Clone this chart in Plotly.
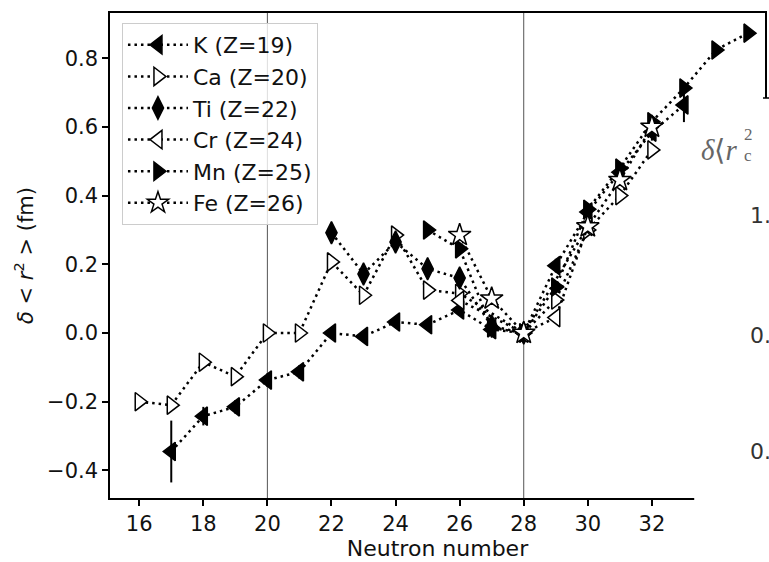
import plotly.graph_objects as go

# Isotope shifts of the mean-square charge radius, relative to N = 28
k_n = [17, 18, 19, 20, 21, 22, 23, 24, 25, 26, 27, 28, 29, 30, 31, 32, 33]
k_dr2 = [-0.345, -0.242, -0.215, -0.137, -0.113, 0.0, -0.01, 0.032, 0.024,
         0.067, 0.01, 0.0, 0.196, 0.352, 0.468, 0.585, 0.664]
k_err = [0.09, 0.027, 0.02, 0.02, 0.02, 0.015, 0.015, 0.015, 0.015,
         0.015, 0.015, 0.0, 0.02, 0.02, 0.02, 0.025, 0.05]

ca_n = [16, 17, 18, 19, 20, 21, 22, 23, 24, 25, 26, 28, 29, 30, 31, 32]
ca_dr2 = [-0.20, -0.21, -0.085, -0.127, 0.0, 0.0, 0.207, 0.11, 0.285, 0.125,
          0.115, 0.0, 0.096, 0.30, 0.40, 0.533]
ca_err = [0.01] * len(ca_n)

ti_n = [22, 23, 24, 25, 26, 27, 28]
ti_dr2 = [0.292, 0.172, 0.265, 0.187, 0.16, 0.02, 0.0]
ti_err = [0.02] * len(ti_n)

cr_n = [26, 28, 29, 30]
cr_dr2 = [0.095, 0.0, 0.045, 0.31]
cr_err = [0.01] * len(cr_n)

mn_n = [25, 26, 27, 28, 29, 30, 31, 32, 33, 34, 35]
mn_dr2 = [0.30, 0.245, 0.015, 0.0, 0.134, 0.36, 0.48, 0.615, 0.713, 0.824, 0.873]
mn_err = [0.015] * len(mn_n)

fe_n = [26, 27, 28, 30, 31, 32]
fe_dr2 = [0.285, 0.10, 0.0, 0.31, 0.445, 0.60]
fe_err = [0.01] * len(fe_n)

magic_n = [20, 28]

series = [
    ("K (Z=19)", k_n, k_dr2, k_err, "triangle-left", "black", 16),
    ("Ca (Z=20)", ca_n, ca_dr2, ca_err, "triangle-right", "white", 16),
    ("Ti (Z=22)", ti_n, ti_dr2, ti_err, "diamond-tall", "black", 16),
    ("Cr (Z=24)", cr_n, cr_dr2, cr_err, "triangle-left", "white", 16),
    ("Mn (Z=25)", mn_n, mn_dr2, mn_err, "triangle-right", "black", 16),
    ("Fe (Z=26)", fe_n, fe_dr2, fe_err, "star", "white", 17),
]

FONT = "DejaVu Sans"
W, H = 769, 562
L, R, T, B = 110, 2, 13, 64
PW, PH = W - L - R, H - T - B


def px_x(p):
    """pixel column -> paper x"""
    return (p - L) / PW


def px_y(p):
    """pixel row -> paper y"""
    return (H - B - p) / PH


fig = go.Figure()
for i, (name, xs, ys, es, sym, fill, size) in enumerate(series):
    fig.add_trace(go.Scatter(
        x=xs, y=ys, name=name, mode="lines+markers", legendgroup=f"g{i}",
        line=dict(color="black", width=2.5, dash="2.5px,4px"),
        marker=dict(symbol=sym, size=size, color=fill,
                    line=dict(color="black", width=1.5)),
        error_y=dict(type="data", array=es, visible=True,
                     color="black", thickness=2, width=0),
    ))

for n in magic_n:
    fig.add_shape(type="line", xref="x", yref="paper", x0=n, x1=n, y0=0, y1=1,
                  line=dict(color="#555555", width=1), layer="below")

# neighbouring panel overlapping the lower right corner
fig.add_shape(type="rect", xref="paper", yref="paper",
              x0=px_x(696), x1=px_x(W + 20),
              y0=px_y(H + 20), y1=px_y(98),
              fillcolor="white", line=dict(width=0), layer="above")
fig.add_shape(type="line", xref="paper", yref="paper",
              x0=px_x(765), x1=px_x(W + 20), y0=px_y(98), y1=px_y(98),
              line=dict(color="black", width=1.5), layer="above")

side_texts = [
    ("<i>δ</i>⟨<i>r</i>", 701, 150, 29, "Liberation Serif", "#666666"),
    ("2", 744, 134, 17, "Liberation Serif", "#666666"),
    ("c", 744, 156, 17, "Liberation Serif", "#666666"),
    ("1.", 750, 216, 22, FONT, "#333333"),
    ("0.", 750, 335, 22, FONT, "#333333"),
    ("0.", 750, 451, 22, FONT, "#333333"),
    ("0", 750, 570, 22, FONT, "#333333"),
]
for txt, x, y, fs, fam, col in side_texts:
    fig.add_annotation(text=txt, xref="paper", yref="paper",
                       x=px_x(x), y=px_y(y), xanchor="left", yanchor="middle",
                       showarrow=False, font=dict(family=fam, size=fs, color=col))

axis_common = dict(
    showline=True, linecolor="black", linewidth=1.5, mirror=True,
    ticks="outside", ticklen=6, tickwidth=1.5, tickcolor="black",
    showgrid=False, zeroline=False,
    tickfont=dict(family=FONT, size=21, color="#111111"),
)

fig.update_layout(
    width=W, height=H,
    margin=dict(l=L, r=R, t=T, b=B),
    paper_bgcolor="white", plot_bgcolor="white",
    font=dict(family=FONT, size=21, color="#111111"),
    xaxis=dict(range=[15.088, 35.53], dtick=2, tick0=16,
               title=dict(text="Neutron number", standoff=4,
                          font=dict(family=FONT, size=22)),
               **axis_common),
    yaxis=dict(range=[-0.4803, 0.9316], dtick=0.2, tick0=0, tickformat=".1f",
               title=dict(text="<i>δ</i> &lt; <i>r</i><sup>2</sup> &gt; (fm)",
                          standoff=8, font=dict(family=FONT, size=21)),
               **axis_common),
    legend=dict(x=px_x(122), y=px_y(23),
                xanchor="left", yanchor="top",
                traceorder="grouped", tracegroupgap=0,
                bgcolor="rgba(255,255,255,0.8)", bordercolor="#cccccc",
                borderwidth=1, font=dict(family=FONT, size=22, color="#111111"),
                itemwidth=60),
    showlegend=True,
)

fig.write_html("out.html")
